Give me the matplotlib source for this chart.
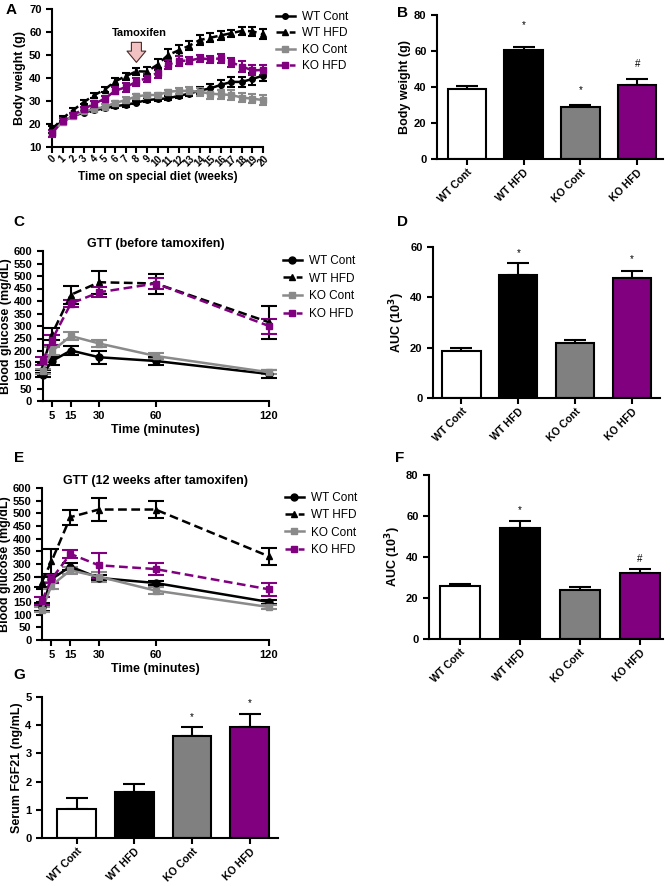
import matplotlib
matplotlib.use("Agg")
import matplotlib.pyplot as plt
import numpy as np

plt.rcParams['font.family'] = ['Liberation Sans', 'DejaVu Sans']
plt.rcParams['axes.linewidth'] = 1.5

# ---------------- data ----------------
groups = ["WT Cont", "WT HFD", "KO Cont", "KO HFD"]

weeks = [0, 1, 2, 3, 4, 5, 6, 7, 8, 9, 10, 11, 12, 13, 14, 15, 16, 17, 18, 19, 20]
bw_wt_cont = [18.3, 21, 23.4, 25, 26, 26.8, 27.8, 28.3, 29.3, 30.4, 30.8, 31.2, 32.2, 33.2, 34.5, 35.5, 37, 38.3, 38.3, 39.6, 41]
bw_wt_cont_err = [1, 1, 1, 0.8, 0.8, 0.8, 0.8, 0.8, 0.8, 0.8, 0.8, 0.8, 0.8, 1.2, 1.5, 2, 2, 2, 2.2, 2.5, 2.5]
bw_wt_hfd = [17.5, 22.5, 26, 29.5, 32.5, 35, 38.6, 40.8, 42.9, 42.8, 45.8, 50, 52, 54, 56.5, 57.5, 58.5, 59.5, 60.5, 60.3, 59]
bw_wt_hfd_err = [1.5, 1, 1, 1, 1, 1, 1.5, 1.5, 1.5, 2, 2.5, 2.5, 2.5, 2, 2, 2, 2, 1.5, 1.8, 2, 2.2]
bw_ko_cont = [16, 21, 23.5, 25.5, 26.5, 27.5, 29.2, 30.4, 32, 32.6, 32.6, 34, 34.4, 34.4, 34, 33.2, 32.9, 32.6, 31.5, 31, 30.4]
bw_ko_cont_err = [1.5, 1, 1, 1, 1, 1, 1, 1.2, 1.2, 1, 1, 1, 1.2, 1.5, 1.8, 2.2, 2, 2, 2, 2, 2]
bw_ko_hfd = [16, 21.5, 24, 26.5, 28.8, 31, 34.5, 36, 38.4, 40, 42.2, 45.8, 47.4, 47.6, 48.5, 48.2, 48.5, 46.8, 45, 43.3, 43.5]
bw_ko_hfd_err = [1.5, 1, 1, 1, 1, 1, 1.5, 2, 1.8, 1.8, 2, 2, 2, 1.5, 1.5, 1.5, 1.8, 2, 2.2, 2.2, 2]

bw_final = [39, 60.5, 28.7, 41]
bw_final_err = [1.8, 2.0, 1.4, 3.5]

gtt_time = [0, 5, 15, 30, 60, 120]
gtt1_wt_cont = [105, 160, 202, 175, 160, 108]
gtt1_wt_cont_err = [8, 15, 18, 25, 15, 15]
gtt1_wt_hfd = [140, 268, 425, 475, 470, 315]
gtt1_wt_hfd_err = [15, 25, 35, 45, 40, 65]
gtt1_ko_cont = [120, 200, 260, 230, 180, 115]
gtt1_ko_cont_err = [10, 15, 15, 15, 12, 8]
gtt1_ko_hfd = [160, 245, 390, 435, 470, 300]
gtt1_ko_hfd_err = [15, 20, 15, 20, 22, 30]

auc1 = [18.5, 49, 22, 47.5]
auc1_err = [1.2, 4.5, 1.0, 3.0]

gtt2_wt_cont = [130, 240, 290, 245, 225, 150]
gtt2_wt_cont_err = [15, 15, 12, 10, 8, 8]
gtt2_wt_hfd = [230, 310, 485, 515, 515, 330]
gtt2_wt_hfd_err = [20, 50, 30, 45, 35, 35]
gtt2_ko_cont = [120, 215, 275, 250, 195, 130]
gtt2_ko_cont_err = [10, 12, 15, 20, 15, 8]
gtt2_ko_hfd = [155, 240, 340, 295, 280, 200]
gtt2_ko_hfd_err = [15, 15, 15, 50, 25, 25]

auc2 = [26, 54, 24, 32]
auc2_err = [0.6, 3.5, 1.5, 2.2]

fgf21 = [1.03, 1.63, 3.6, 3.95]
fgf21_err = [0.38, 0.28, 0.35, 0.45]

# ---------------- styling ----------------
PURPLE = '#800080'
GRAY = '#8a8a8a'
BARGRAY = '#808080'
bar_colors = ['white', 'black', BARGRAY, PURPLE]
line_styles = [
    dict(color='black', marker='o', ls='-'),
    dict(color='black', marker='^', ls=(0, (3.5, 1.8))),
    dict(color=GRAY, marker='s', ls='-'),
    dict(color=PURPLE, marker='s', ls=(0, (3.5, 1.8))),
]

W, H = 670, 886
fig = plt.figure(figsize=(W / 100, H / 100), dpi=100)


def add_ax(l, t, r, b):
    return fig.add_axes([l / W, 1 - b / H, (r - l) / W, (b - t) / H])


def style_ax(ax, fs=8):
    for s in ['top', 'right']:
        ax.spines[s].set_visible(False)
    ax.tick_params(direction='out', width=1.5, length=4, labelsize=fs)
    for lab in ax.get_xticklabels() + ax.get_yticklabels():
        lab.set_fontweight('bold')


def line_panel(ax, x, series, errs, ms=4.5, cap=3):
    handles = []
    for y, e, st in zip(series, errs, line_styles):
        ax.errorbar(x, y, yerr=e, fmt='none', ecolor=st['color'], elinewidth=1.5,
                    capsize=cap, capthick=1.5, clip_on=False, zorder=3)
        h, = ax.plot(x, y, color=st['color'], marker=st['marker'], ls=st['ls'],
                     lw=1.8, ms=ms, clip_on=False, zorder=4)
        handles.append(h)
    return handles


def bar_panel(ax, vals, errs, ylim, yticks, xlim, marks):
    pos = np.arange(len(groups))
    ax.bar(pos, vals, width=0.67, color=bar_colors, edgecolor='black', linewidth=1.5, zorder=2)
    ax.errorbar(pos, vals, yerr=[np.zeros(len(vals)), errs], fmt='none', ecolor='black',
                elinewidth=1.5, capsize=8, capthick=1.5, zorder=1)
    ax.set_xlim(*xlim)
    ax.set_ylim(*ylim)
    ax.set_yticks(yticks)
    ax.set_xticks(pos)
    ax.set_xticklabels(groups, rotation=45, ha='right', rotation_mode='anchor')
    style_ax(ax)
    ax.tick_params(axis='x', labelsize=7.6, pad=2)
    for i, (txt, yy) in marks.items():
        ax.text(i, yy, txt, ha='center', va='center', fontsize=7)


def legend(ax, handles, x, y, spacing):
    ax.legend(handles, groups, loc='upper left', bbox_to_anchor=(x / W, 1 - y / H),
              bbox_transform=fig.transFigure, frameon=False, fontsize=8.5,
              handlelength=1.6, handletextpad=0.6, labelspacing=spacing, borderpad=0,
              borderaxespad=0)


# ---------------- Panel A ----------------
axA = add_ax(52, 9, 263, 147)
hA = line_panel(axA, weeks, [bw_wt_cont, bw_wt_hfd, bw_ko_cont, bw_ko_hfd],
                [bw_wt_cont_err, bw_wt_hfd_err, bw_ko_cont_err, bw_ko_hfd_err], ms=4, cap=3)
axA.set_xlim(0, 20)
axA.set_ylim(10, 70)
axA.set_yticks([10, 20, 30, 40, 50, 60, 70])
axA.set_xticks(weeks)
axA.set_xticklabels([str(w) for w in weeks], rotation=45, ha='center')
style_ax(axA)
axA.tick_params(axis='x', labelsize=7, pad=1)
axA.set_ylabel('Body weight (g)', fontsize=9, fontweight='bold', labelpad=2)
axA.set_xlabel('Time on special diet (weeks)', fontsize=8.5, fontweight='bold', labelpad=2)
axA.annotate('', xy=(8, 46.8), xytext=(8, 55.5),
             arrowprops=dict(arrowstyle='simple,head_length=0.45,head_width=0.75,tail_width=0.4',
                             fc='#f2c2c2', ec='#4a2a2a', lw=0.8, mutation_scale=18, shrinkA=0, shrinkB=0))
axA.text(8.3, 59.5, 'Tamoxifen', ha='center', va='center', fontsize=8, fontweight='bold')
legend(axA, hA, 276, 11, 0.38)

# ---------------- Panel B ----------------
axB = add_ax(437, 15, 663, 159)
bar_panel(axB, bw_final, bw_final_err, (0, 80), [0, 20, 40, 60, 80], (-0.52, 3.45),
          {1: ('*', 74.5), 2: ('*', 38.5), 3: ('#', 53)})
axB.set_ylabel('Body weight (g)', fontsize=9, fontweight='bold', labelpad=2)

# ---------------- Panel C ----------------
axC = add_ax(42.6, 251, 269, 401)
hC = line_panel(axC, gtt_time, [gtt1_wt_cont, gtt1_wt_hfd, gtt1_ko_cont, gtt1_ko_hfd],
                [gtt1_wt_cont_err, gtt1_wt_hfd_err, gtt1_ko_cont_err, gtt1_ko_hfd_err], ms=5, cap=6)
axC.set_xlim(0, 120)
axC.set_ylim(0, 600)
axC.set_yticks(list(range(0, 601, 50)))
axC.set_xticks([5, 15, 30, 60, 120])
style_ax(axC)
axC.set_ylabel('Blood glucose (mg/dL)', fontsize=9, fontweight='bold', labelpad=1)
axC.set_xlabel('Time (minutes)', fontsize=9, fontweight='bold', labelpad=2)
axC.set_title('GTT (before tamoxifen)', fontsize=9, fontweight='bold', pad=3)
legend(axC, hC, 283, 255, 0.47)

# ---------------- Panel D ----------------
axD = add_ax(433, 247, 660, 398)
bar_panel(axD, auc1, auc1_err, (0, 60), [0, 20, 40, 60], (-0.5, 3.49),
          {1: ('*', 57.5), 3: ('*', 55.3)})
axD.set_ylabel('AUC (10$^\\mathbf{3}$)', fontsize=9, fontweight='bold', labelpad=2)

# ---------------- Panel E ----------------
axE = add_ax(42, 488, 269, 640)
hE = line_panel(axE, gtt_time, [gtt2_wt_cont, gtt2_wt_hfd, gtt2_ko_cont, gtt2_ko_hfd],
                [gtt2_wt_cont_err, gtt2_wt_hfd_err, gtt2_ko_cont_err, gtt2_ko_hfd_err], ms=5, cap=6)
axE.set_xlim(0, 120)
axE.set_ylim(0, 600)
axE.set_yticks(list(range(0, 601, 50)))
axE.set_xticks([5, 15, 30, 60, 120])
style_ax(axE)
axE.set_ylabel('Blood glucose (mg/dL)', fontsize=9, fontweight='bold', labelpad=1)
axE.set_xlabel('Time (minutes)', fontsize=9, fontweight='bold', labelpad=2)
axE.set_title('GTT (12 weeks after tamoxifen)', fontsize=9, fontweight='bold', pad=3)
legend(axE, hE, 285, 492, 0.45)

# ---------------- Panel F ----------------
axF = add_ax(429, 475, 663, 639)
bar_panel(axF, auc2, auc2_err, (0, 80), [0, 20, 40, 60, 80], (-0.52, 3.39),
          {1: ('*', 63), 3: ('#', 39)})
axF.set_ylabel('AUC (10$^\\mathbf{3}$)', fontsize=9, fontweight='bold', labelpad=2)

# ---------------- Panel G ----------------
axG = add_ax(42, 697, 278, 838)
bar_panel(axG, fgf21, fgf21_err, (0, 5), [0, 1, 2, 3, 4, 5], (-0.6, 3.49),
          {2: ('*', 4.3), 3: ('*', 4.8)})
axG.set_ylabel('Serum FGF21 (ng/mL)', fontsize=9, fontweight='bold', labelpad=2)

# ---------------- panel letters ----------------
for letter, x, y in [('A', 11, 10), ('B', 402, 13), ('C', 19, 222), ('D', 402, 222),
                     ('E', 19, 458), ('F', 400, 458), ('G', 19, 675)]:
    fig.text(x / W, 1 - y / H, letter, fontsize=11, fontweight='bold', ha='center', va='center')

fig.savefig('out.png', dpi=100)
